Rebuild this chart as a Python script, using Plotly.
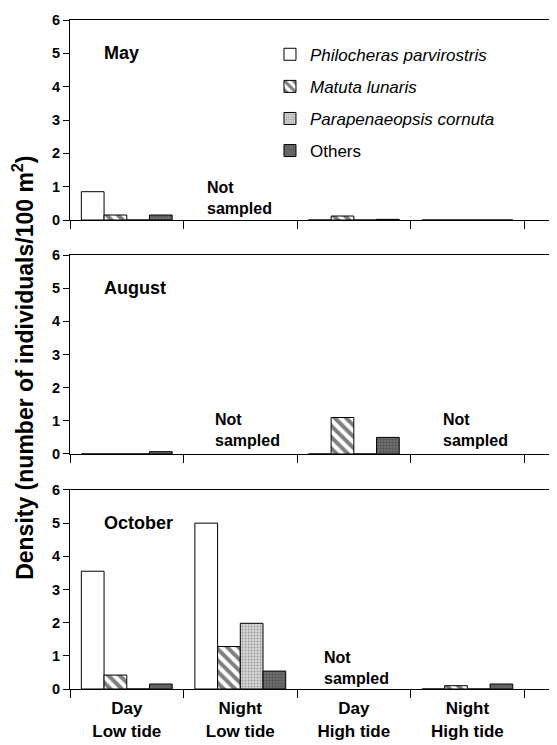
import plotly.graph_objects as go

# Densidade por mês e período (None = não amostrado)
periodos = ["Day<br>Low tide", "Night<br>Low tide", "Day<br>High tide", "Night<br>High tide"]
meses = ["May", "August", "October"]
especies = ["<i>Philocheras parvirostris</i>", "<i>Matuta lunaris</i>",
            "<i>Parapenaeopsis cornuta</i>", "Others"]

maio = {
    "philocheras":    [0.85, None, 0.0, 0.0],
    "matuta":         [0.15, None, 0.12, 0.0],
    "parapenaeopsis": [0.0, None, 0.0, 0.0],
    "outros":         [0.15, None, 0.02, 0.0],
}
agosto = {
    "philocheras":    [0.0, None, 0.0, None],
    "matuta":         [0.0, None, 1.1, None],
    "parapenaeopsis": [0.0, None, 0.0, None],
    "outros":         [0.07, None, 0.5, None],
}
outubro = {
    "philocheras":    [3.55, 5.0, None, 0.0],
    "matuta":         [0.42, 1.28, None, 0.1],
    "parapenaeopsis": [0.0, 1.98, None, 0.0],
    "outros":         [0.15, 0.54, None, 0.15],
}
dados = [maio, agosto, outubro]

# Onde escrever "Not sampled": (painel, x, y)
nao_amostrado = [(0, 0.69, 0.66), (1, 0.76, 0.72), (1, 2.77, 0.72), (2, 1.72, 0.63)]

estilos = {
    "philocheras":    dict(color="white", pattern=dict(shape="")),
    "matuta":         dict(color="white", pattern=dict(shape="\\", fgcolor="black", size=8, solidity=0.5)),
    "parapenaeopsis": dict(color="#d8d8d8", pattern=dict(shape=".", fgcolor="#555555", size=3, solidity=0.3)),
    "outros":         dict(color="#6e6e6e", pattern=dict(shape=".", fgcolor="#333333", size=3, solidity=0.4)),
}

x = [0, 1, 2, 3]
fig = go.Figure()

dominios = [[0.701, 1.0], [0.3513, 0.6487], [0.0, 0.2975]]

for i, d in enumerate(dados):
    eixo = "" if i == 0 else str(i + 1)
    for chave, nome in zip(estilos.keys(), especies):
        est = estilos[chave]
        fig.add_trace(go.Bar(
            x=x,
            y=d[chave],
            name=nome,
            legendgroup=chave,
            showlegend=(i == 0),
            xaxis="x" + eixo,
            yaxis="y" + eixo,
            marker=dict(color=est["color"], pattern=est["pattern"],
                        line=dict(color="black", width=1)),
        ))

eixo_x = dict(
    range=[-0.5, 3.86],
    showline=True, linecolor="black", linewidth=1, mirror=True,
    tickvals=x, ticktext=periodos, ticks="", showgrid=False, zeroline=False,
    minor=dict(tick0=-0.5, dtick=1, ticks="outside", ticklen=8, tickcolor="black", showgrid=False),
    tickfont=dict(family="Arial", size=17, color="black", weight="bold"),
)
eixo_y = dict(
    range=[0, 6],
    tickvals=[0, 1, 2, 3, 4, 5, 6],
    showline=True, linecolor="black", linewidth=1,
    ticks="outside", ticklen=6, tickcolor="black",
    showgrid=False, zeroline=False,
    tickfont=dict(family="Arial", size=14.5, color="black", weight="bold"),
)

layout = dict(
    width=557, height=745,
    margin=dict(l=62, r=0, t=12, b=64),
    plot_bgcolor="white", paper_bgcolor="white",
    barmode="group", bargap=0.2, bargroupgap=0,
    font=dict(family="Arial", color="black"),
    legend=dict(
        x=0.404, y=0.975, xanchor="left", yanchor="top",
        font=dict(family="Arial", size=17, color="black"),
        tracegroupgap=7, bgcolor="rgba(0,0,0,0)",
    ),
)

for i in range(3):
    eixo = "" if i == 0 else str(i + 1)
    ex = dict(eixo_x, anchor="y" + eixo, showticklabels=(i == 2))
    if i == 2:
        ex["ticklabelstandoff"] = 4
    else:
        ex["matches"] = "x3"
    layout["xaxis" + eixo] = ex
    layout["yaxis" + eixo] = dict(eixo_y, domain=dominios[i], anchor="x" + eixo)

fig.update_layout(**layout)

# Rótulos dos meses
for i, mes in enumerate(meses):
    eixo = "" if i == 0 else str(i + 1)
    fig.add_annotation(
        x=-0.22, y=5.0, xref="x" + eixo, yref="y" + eixo,
        text=mes, showarrow=False, xanchor="left",
        font=dict(family="Arial", size=18, color="black", weight="bold"),
    )

for painel, px_, py_ in nao_amostrado:
    eixo = "" if painel == 0 else str(painel + 1)
    fig.add_annotation(
        x=px_, y=py_, xref="x" + eixo, yref="y" + eixo,
        text="Not<br>sampled", showarrow=False, align="left", xanchor="left",
        font=dict(family="Arial", size=16, color="black", weight="bold"),
    )

fig.add_annotation(
    x=-0.095, y=0.48, xref="paper", yref="paper",
    text="Density (number of individuals/100 m<sup>2</sup>)",
    textangle=-90, showarrow=False, xanchor="center", yanchor="middle",
    font=dict(family="Arial", size=23, color="black", weight="bold"),
)

fig.write_html("out.html")
